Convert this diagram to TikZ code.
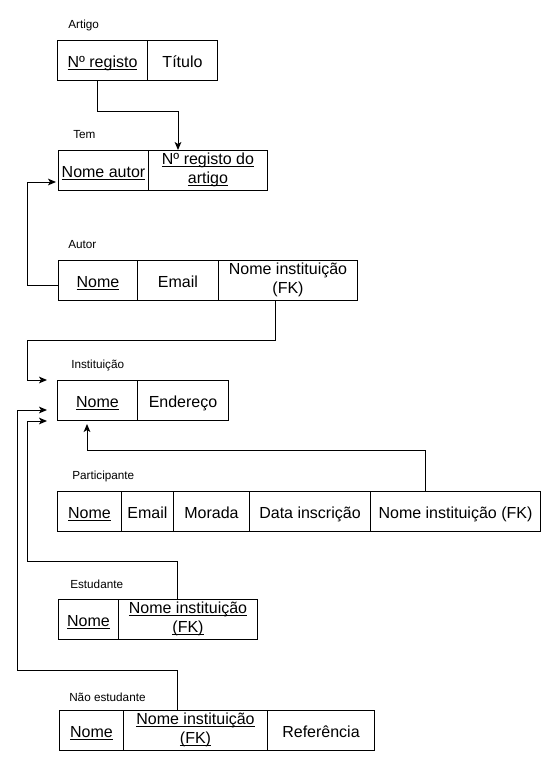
\documentclass[tikz,border=0pt]{standalone}
\usepackage{fontspec}
\setmainfont{Liberation Sans}
\usetikzlibrary{calc,arrows.meta}
\newcommand\pkline[1]{\setbox0\hbox{#1}\rlap{\smash{\rule[-1.6pt]{\wd0}{0.6pt}}}\box0}
\newcommand\topstrut{\rule[-3pt]{0pt}{16.5pt}}
\newcommand\botstrut{\rule[-2.5pt]{0pt}{2.5pt}}
\begin{document}
\begin{tikzpicture}[x=0.75pt,y=-0.75pt,
  cell/.style={draw, line width=0.75pt, inner sep=0pt, minimum height=30pt,
    anchor=north west, align=center, font=\fontsize{12}{14}\selectfont,
    execute at begin node={\topstrut}},
  tlabel/.style={anchor=west, inner sep=0pt, font=\fontsize{8.8}{10}\selectfont},
  arr/.style={line width=0.75pt, -{Stealth[length=6pt,width=5pt,inset=1.5pt]}},
  conn/.style={line width=0.75pt}]
\fill[white] (0,0) rectangle (551,761);
\useasboundingbox (0,0) rectangle (551,761);

% Artigo
\node[tlabel] (lart) at (68,25) {Artigo};
\node[cell, minimum width=67.5pt] (art1) at (57,40) {\pkline{Nº registo}};
\node[cell, minimum width=52.5pt] (art2) at (147,40) {Título};

% Tem
\node[tlabel] (ltem) at (73,135) {Tem};
\node[cell, minimum width=67.5pt] (tem1) at (58,150) {\pkline{Nome autor}};
\node[cell, minimum width=89.25pt] (tem2) at (148,150) {\pkline{Nº registo do}\\\botstrut\pkline{artigo}};

% Autor
\node[tlabel] (laut) at (68,245) {Autor};
\node[cell, minimum width=59.25pt] (aut1) at (58,260) {\pkline{Nome}};
\node[cell, minimum width=60.75pt] (aut2) at (137,260) {Email};
\node[cell, minimum width=104.25pt] (aut3) at (218,260) {Nome instituição\\\botstrut(FK)};

% Instituição
\node[tlabel] (lins) at (71,365) {Instituição};
\node[cell, minimum width=60pt] (ins1) at (57,380) {\pkline{Nome}};
\node[cell, minimum width=68.25pt] (ins2) at (137,380) {Endereço};

% Participante
\node[tlabel] (lpar) at (72,476) {Participante};
\node[cell, minimum width=48pt] (par1) at (57,491) {\pkline{Nome}};
\node[cell, minimum width=39pt] (par2) at (121,491) {Email};
\node[cell, minimum width=57pt] (par3) at (173,491) {Morada};
\node[cell, minimum width=90.75pt] (par4) at (249,491) {Data inscrição};
\node[cell, minimum width=127.5pt] (par5) at (370,491) {Nome instituição (FK)};

% Estudante
\node[tlabel] (lest) at (70,584) {Estudante};
\node[cell, minimum width=45pt] (est1) at (58,599) {\pkline{Nome}};
\node[cell, minimum width=104.25pt] (est2) at (118,599) {\pkline{Nome instituição}\\\botstrut\pkline{(FK)}};

% Não estudante
\node[tlabel] (lnes) at (69,697) {Não estudante};
\node[cell, minimum width=48pt] (nes1) at (59,710) {\pkline{Nome}};
\node[cell, minimum width=108pt] (nes2) at (123,710) {\pkline{Nome instituição}\\\botstrut\pkline{(FK)}};
\node[cell, minimum width=80.25pt] (nes3) at (267,710) {Referência};

% connectors
\draw[arr] ($(art1.south west)+(40,0)$) -- ++(0,30) -| ($(tem2.north west)+(30,0)$);
\draw[arr] ($(aut1.south west)+(0,-16)$) -- ++(-31,0) |- ($(tem1.south west)+(-2,-9)$);
\draw[arr] ($(aut3.south west)+(57,0)$) -- ++(0,39) -- ++(-248,0) |- ($(ins1.north west)+(-10,0)$);
\draw[arr] ($(par5.north west)+(55,0)$) -- ++(0,-41) -| ($(ins1.south west)+(30,3)$);
\draw[arr] ($(est2.north west)+(59,0)$) -- ++(0,-38) -- ++(-150,0) |- ($(ins1.south west)+(-10,0)$);
\draw[arr] ($(nes2.north west)+(54,0)$) -- ++(0,-40) -- ++(-160,0) |- ($(ins1.south west)+(-10,-11)$);
\end{tikzpicture}
\end{document}
